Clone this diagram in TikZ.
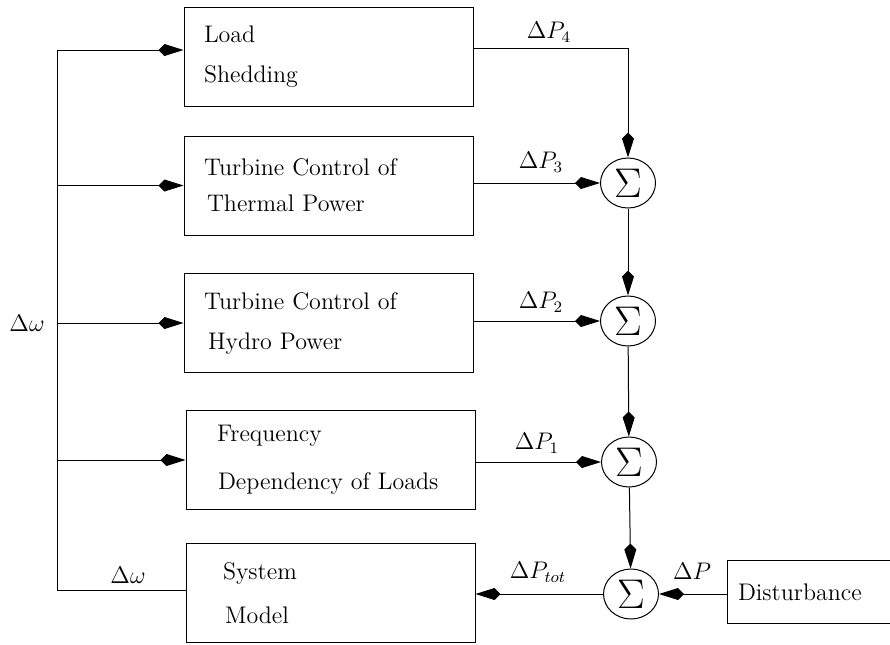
\documentclass[tikz,border=0pt]{standalone}
\usetikzlibrary{arrows.meta,shapes.geometric}
\begin{document}
\begin{tikzpicture}[x=0.5pt,y=-0.5pt,font=\fontsize{12}{20}\selectfont,line width=0.5pt,
  blk/.style={draw,align=left,text width=124.5pt,inner xsep=10pt,inner ysep=0pt,minimum height=49.5pt},
  sumnode/.style={draw,ellipse,minimum width=27.5pt,minimum height=25pt,inner sep=0pt,font=\fontsize{20}{20}\selectfont},
  arr/.style={-{Kite[length=12.5pt,width=6pt,inset=3pt]}}]
\useasboundingbox (0,0) rectangle (890,644);
\clip (0,0) rectangle (890,644);
\node[blk] (shed) at (328.5,56.5) {Load\\Shedding};
\node[blk] (thermal) at (328.5,185.5) {Turbine Control of\\[-2pt]\hspace*{1.5pt}Thermal Power};
\node[blk] (hydro) at (328.5,323) {Turbine Control of\\\hspace*{2pt}Hydro Power};
\node[blk] (freq) at (330.5,460) {\hspace*{5.5pt}Frequency\\[4pt]\hspace*{6pt}Dependency of Loads};
\node[blk] (sysmod) at (330.5,593) {\hspace*{8.5pt}System\\[2pt]\hspace*{9.5pt}Model};
\node[draw,align=left,text width=80pt,inner xsep=5.5pt,minimum height=31.5pt] (dist) at (818,592) {Disturbance};
\node[sumnode] (s1) at (628,183) {$\Sigma$};
\node[sumnode] (s2) at (628,321) {$\Sigma$};
\node[sumnode] (s3) at (629,462) {$\Sigma$};
\node[sumnode] (s4) at (631,594) {$\Sigma$};
\coordinate (top) at (57.7,50);
\coordinate (bot) at (57.7,590);
\coordinate (p4) at (628,48);
\draw[arr] (bot -| sysmod.west) -- (bot) -- (top) -- (top -| shed.west);
\draw[arr] (thermal.west -| top) -- (thermal.west);
\draw[arr] (hydro.west -| top) -- (hydro.west);
\draw[arr] (freq.west -| top) -- (freq.west);
\draw[arr] (p4 -| shed.east) -- (p4) -- (s1);
\draw[arr] (thermal.east |- s1) -- (s1);
\draw[arr] (hydro.east |- s2) -- (s2);
\draw[arr] (freq.east |- s3) -- (s3);
\draw[arr] (s1) -- (s2);
\draw[arr] (s2) -- (s3);
\draw[arr] (s3) -- (s4);
\draw[arr] (dist.west |- s4) -- (s4);
\draw[arr] (s4) -- (s4 -| sysmod.east);
\node (dw1) at (27,323) {$\Delta\omega$};
\node (dw2) at (128,575) {$\Delta\omega$};
\node (dp4) at (549,32) {$\Delta P_4$};
\node (dp3) at (541,162) {$\Delta P_3$};
\node (dp2) at (541,302) {$\Delta P_2$};
\node (dp1) at (537,443) {$\Delta P_1$};
\node (dptot) at (538,572) {$\Delta P_{tot}$};
\node (dp) at (692,571) {$\Delta P$};
\end{tikzpicture}
\end{document}
